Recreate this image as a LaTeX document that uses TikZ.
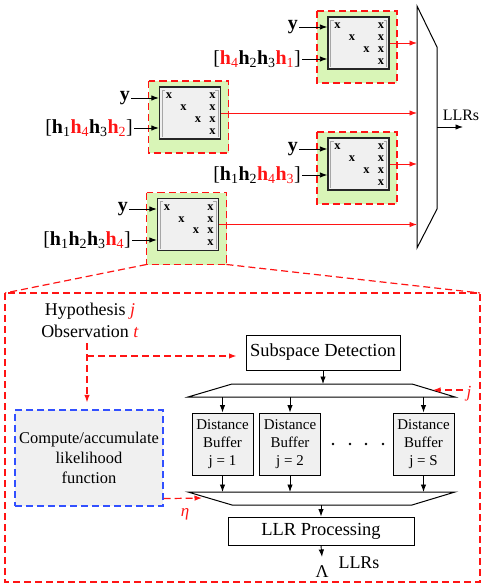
\documentclass[tikz,border=0pt]{standalone}
\usepackage{fontspec}
\setmainfont{Liberation Serif}
\usetikzlibrary{arrows.meta,calc,positioning}

\definecolor{blockgreen}{RGB}{217,245,183}
\definecolor{boxgray}{RGB}{240,240,240}
\definecolor{dashblue}{RGB}{50,80,255}
\definecolor{hred}{RGB}{255,20,20}

\newcommand{\hv}[1]{\textbf{h}\textsubscript{#1}}
\newcommand{\hr}[1]{\textcolor{hred}{\textbf{h}\textsubscript{#1}}}

\tikzset{
  arr/.style={-{Latex[length=7.5bp,width=5.5bp]},line width=0.9bp},
  redarr/.style={hred,-{Latex[length=7.5bp,width=5.5bp]},line width=0.9bp},
  reddash/.style={hred,dash pattern=on 7bp off 4bp,line width=1.2bp},
  redarrdash/.style={reddash,-{Latex[length=7.5bp,width=5.5bp]}},
  mbox/.style={draw=black!85,line width=1.4bp,fill=boxgray,minimum width=61bp,minimum height=52bp,inner sep=0pt},
  plainbox/.style={draw,line width=1bp,inner sep=0pt,font=\fontsize{18.5}{20}\selectfont},
  bufbox/.style={draw,line width=1bp,fill=boxgray,minimum width=61bp,minimum height=62bp,inner sep=0pt,align=center,font=\fontsize{15}{18}\selectfont},
  likebox/.style={draw=dashblue,dash pattern=on 7bp off 4bp,line width=1.2bp,fill=boxgray,minimum width=148bp,minimum height=96bp,inner sep=0pt,align=center,font=\fontsize{16.5}{20}\selectfont},
  inlab/.style={anchor=east,inner sep=1bp,font=\fontsize{20}{22}\selectfont},
  xmark/.style={inner sep=0pt,font=\fontsize{12.5}{13}\bfseries\selectfont},
  detblock/.pic={
    \fill[blockgreen] (-41.5,-32) rectangle (38.5,40);
    \draw[reddash] (-41.5,-32) rectangle (38.5,40);
    \node[mbox] (-box) at (0,0) {};
    \draw[gray!70,line width=0.6bp] (-25,-23) -- (-28,-23) -- (-28,24);
    \draw[gray!70,line width=0.6bp] (25,-23) -- (28,-23) -- (28,24);
    \foreach \c/\r in {-21/-17,-6.5/-5.3,8/6.5,22.5/-17,22.5/-5.3,22.5/6.5,22.5/18.5}
      \node[xmark] at (\c,\r) {x};
    \coordinate (-gsw) at (-41.5,40);
    \coordinate (-gse) at (38.5,40);
  }
}

\begin{document}
\begin{tikzpicture}[x=1bp,y=-1bp]
  \useasboundingbox (0,0) rectangle (484,586);

  % detector blocks
  \pic (b1) at (358.5,43) {detblock};
  \pic (b2) at (190,113) {detblock};
  \pic (b3) at (358.5,164) {detblock};
  \pic (b4) at (188,224.5) {detblock};

  % inputs
  \node[inlab] (y1) at (299,27) {\textbf{y}};
  \node[inlab] (h1) at (302,59) {[\hr{4}\hv{2}\hv{3}\hr{1}]};
  \node[inlab] (y2) at (131,98) {\textbf{y}};
  \node[inlab] (h2) at (134,128) {[\hv{1}\hr{4}\hv{3}\hr{2}]};
  \node[inlab] (y3) at (299,149) {\textbf{y}};
  \node[inlab] (h3) at (302,175) {[\hv{1}\hv{2}\hr{4}\hr{3}]};
  \node[inlab] (y4) at (129,209) {\textbf{y}};
  \node[inlab] (h4) at (132,240) {[\hv{1}\hv{2}\hv{3}\hr{4}]};
  \foreach \b in {1,2,3,4} {
    \draw[arr] (y\b.east) -- (y\b.east -| b\b-box.west);
    \draw[arr] (h\b.east) -- (h\b.east -| b\b-box.west);
  }

  % combiner
  \coordinate (muxa) at (417,6);
  \coordinate (muxb) at (437,47);
  \coordinate (muxc) at (437,209);
  \coordinate (muxd) at (417,248);
  \draw[line width=1bp] (muxa) -- (muxb) -- (muxc) -- (muxd) -- cycle;
  \foreach \b in {1,2,3,4}
    \draw[redarr] (b\b-box.east) -- (b\b-box.east -| muxa);
  \coordinate (llrtip) at (463,127);
  \draw[arr] (muxb |- llrtip) -- (llrtip);
  \node[anchor=base,font=\fontsize{16}{18}\selectfont] (llrs1) at (461,121) {LLRs};

  % zoomed view
  \coordinate (zoomnw) at (5,293);
  \coordinate (zoomse) at (480,582);
  \draw[reddash] (zoomnw) rectangle (zoomse);
  \draw[reddash] (b4-gsw) -- (zoomnw);
  \draw[reddash] (b4-gse) -- (zoomnw -| zoomse);

  \node[anchor=base,font=\fontsize{18}{20}\selectfont] (hyp) at (90,315) {Hypothesis \textcolor{hred}{\textit{j}}};
  \node[anchor=base,font=\fontsize{18}{20}\selectfont] (obs) at (90,337) {Observation \textcolor{hred}{\textit{t}}};

  \node[plainbox,minimum width=154bp,minimum height=35bp] (subdet) at (323,352.5) {Subspace Detection};
  \node[likebox] (likel) at (89,458) {Compute/accumulate\\likelihood\\function};

  \coordinate (obsdn) at (87,343);
  \coordinate (split) at (87,356);
  \draw[redarrdash] (obsdn) -- ([yshift=7bp]likel.north -| obsdn);
  \draw[redarrdash] (split) -- ([xshift=-9bp]subdet.west |- split);

  % buffer bank
  \coordinate (dmx1) at (232,384);
  \coordinate (dmx2) at (412,384);
  \coordinate (dmx3) at (455,397);
  \coordinate (dmx4) at (188,397);
  \draw[line width=1bp] (dmx1) -- (dmx2) -- (dmx3) -- (dmx4) -- cycle;
  \draw[arr] (subdet.south) -- (subdet.south |- dmx1);

  \node[bufbox] (buf1) at (222.5,444) {Distance\\Buffer\\j = 1};
  \node[bufbox] (buf2) at (290,444) {Distance\\Buffer\\j = 2};
  \node[bufbox] (bufS) at (423.5,444) {Distance\\Buffer\\j = S};
  \foreach \dx in {333,350,366,383}
    \fill (\dx,444) circle (1.4bp);

  \coordinate (cmb1) at (188,492);
  \coordinate (cmb2) at (455,492);
  \coordinate (cmb3) at (412,505);
  \coordinate (cmb4) at (232,505);
  \draw[line width=1bp] (cmb1) -- (cmb2) -- (cmb3) -- (cmb4) -- cycle;
  \foreach \n in {buf1,buf2,bufS} {
    \draw[arr] (\n.north |- dmx4) -- (\n.north);
    \draw[arr] (\n.south) -- (\n.south |- cmb1);
  }

  \node[anchor=base,hred,font=\fontsize{17}{18}\selectfont] (jlab) at (469,397) {\textit{j}};
  \coordinate (jtip) at (433,390);
  \draw[redarrdash] (jlab.west |- jtip) -- (jtip);

  \coordinate (etatip) at (202,498);
  \draw[redarrdash] ([yshift=8bp]likel.south east) -- (etatip);
  \node[anchor=base,hred,font=\fontsize{17}{18}\selectfont] (etalab) at (185,516) {\textit{η}};

  % output
  \node[plainbox,minimum width=186bp,minimum height=28bp] (llrproc) at (321,531) {LLR Processing};
  \draw[arr] (llrproc.north |- cmb4) -- (llrproc.north);
  \node[anchor=base,inner sep=0pt,font=\fontsize{18}{20}\selectfont] (lambda) at (322,577) {Λ};
  \draw[arr] (llrproc.south) -- ([yshift=8bp]lambda.north);
  \node[anchor=base,font=\fontsize{18}{20}\selectfont] (llrs2) at (359,568) {LLRs};
\end{tikzpicture}
\end{document}
